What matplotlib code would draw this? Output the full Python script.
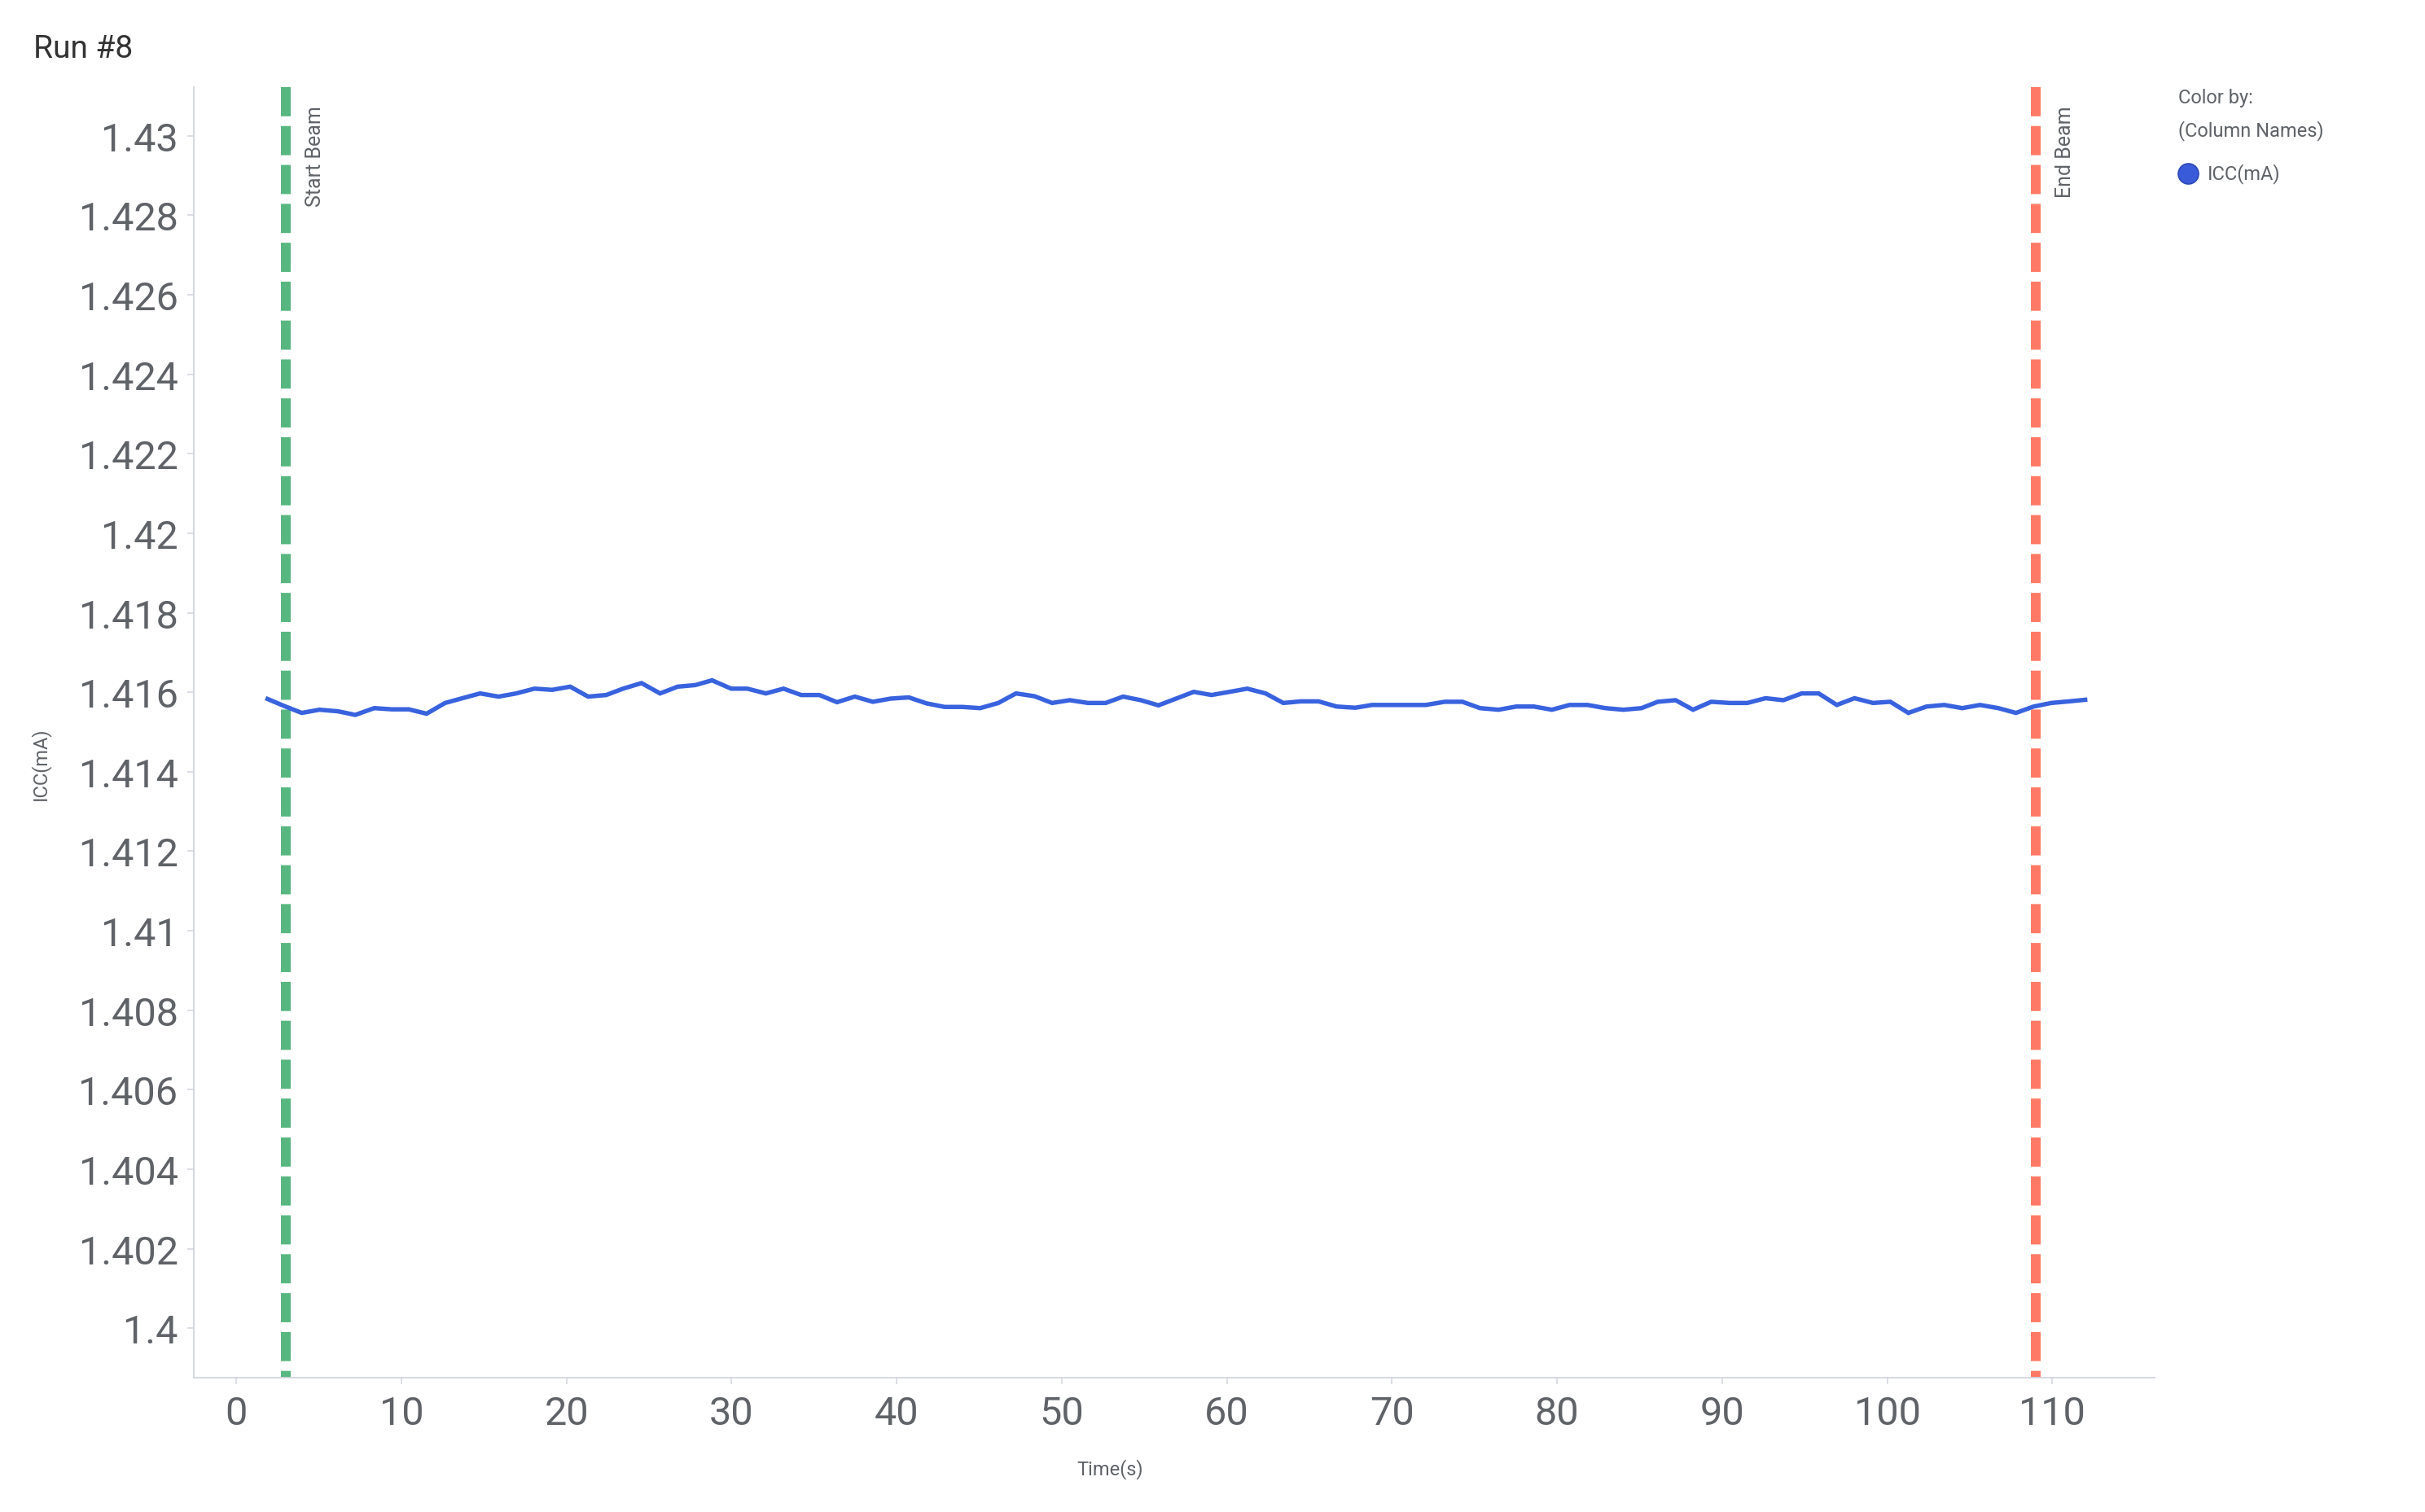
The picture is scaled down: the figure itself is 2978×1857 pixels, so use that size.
import matplotlib
matplotlib.use("Agg")
import matplotlib.pyplot as plt
from matplotlib.lines import Line2D
from matplotlib.ticker import FuncFormatter, MultipleLocator
from matplotlib.transforms import offset_copy

plt.rcParams['font.family'] = ['Roboto', 'DejaVu Sans']

# ---- data ----
time_s = [1.90, 2.93, 3.97, 5.04, 6.17, 7.21, 8.36, 9.43, 10.45, 11.53,
          12.65, 13.70, 14.77, 15.89, 16.96, 18.06, 19.13, 20.23, 21.31, 22.41,
          23.43, 24.55, 25.67, 26.74, 27.81, 28.82, 29.98, 30.96, 32.08, 33.15,
          34.22, 35.32, 36.39, 37.47, 38.56, 39.64, 40.74, 41.81, 42.91, 43.98,
          45.06, 46.16, 47.23, 48.35, 49.42, 50.49, 51.59, 52.66, 53.72, 54.79,
          55.86, 56.93, 58.00, 59.07, 60.17, 61.24, 62.35, 63.42, 64.49, 65.56,
          66.66, 67.78, 68.80, 69.92, 70.98, 72.05, 73.20, 74.27, 75.34, 76.46,
          77.53, 78.60, 79.69, 80.76, 81.85, 82.93, 84.02, 85.12, 86.10, 87.18,
          88.24, 89.34, 90.46, 91.53, 92.63, 93.71, 94.82, 95.85, 96.95, 98.02,
          99.14, 100.19, 101.28, 102.38, 103.45, 104.55, 105.62, 106.73, 107.80, 108.87,
          109.94, 111.01, 111.99]
icc_ma = [1.41583, 1.41565, 1.41548, 1.41556, 1.41552, 1.41543, 1.41560, 1.41557, 1.41557, 1.41546,
          1.41573, 1.41585, 1.41597, 1.41589, 1.41597, 1.41609, 1.41606, 1.41614, 1.41589, 1.41593,
          1.41609, 1.41623, 1.41597, 1.41614, 1.41618, 1.41630, 1.41609, 1.41609, 1.41597, 1.41609,
          1.41593, 1.41593, 1.41575, 1.41589, 1.41576, 1.41584, 1.41587, 1.41572, 1.41563, 1.41563,
          1.41560, 1.41573, 1.41597, 1.41590, 1.41573, 1.41580, 1.41573, 1.41573, 1.41589, 1.41580,
          1.41567, 1.41584, 1.41601, 1.41593, 1.41601, 1.41609, 1.41597, 1.41573, 1.41577, 1.41577,
          1.41564, 1.41561, 1.41568, 1.41568, 1.41568, 1.41568, 1.41576, 1.41576, 1.41560, 1.41556,
          1.41564, 1.41564, 1.41556, 1.41568, 1.41568, 1.41560, 1.41556, 1.41560, 1.41576, 1.41580,
          1.41556, 1.41576, 1.41573, 1.41573, 1.41585, 1.41580, 1.41597, 1.41597, 1.41568, 1.41585,
          1.41573, 1.41576, 1.41548, 1.41564, 1.41568, 1.41560, 1.41568, 1.41560, 1.41548, 1.41564,
          1.41573, 1.41577, 1.41581]
series_name = "ICC(mA)"
start_beam_s = 3.0
end_beam_s = 109.0
x_ticks = [0, 10, 20, 30, 40, 50, 60, 70, 80, 90, 100, 110]

# ---- style ----
W, H = 2978, 1858
line_color = '#3862DE'
green = '#58B780'
red = '#FF7A66'
spine_color = '#D2D4DE'
text_gray = '#5F6368'
small = 17

fig = plt.figure(figsize=(W / 100, H / 100), dpi=100)
ax = fig.add_axes([238 / W, 1 - 1693 / H, (2646 - 238) / W, (1693 - 108) / H])

ax.plot(time_s, icc_ma, color=line_color, lw=3.9, solid_joinstyle='miter', zorder=3)

for xv, col in [(start_beam_s, green), (end_beam_s, red)]:
    ax.axvline(xv, ymin=1, ymax=0, color=col, lw=8.6, linestyle=(0, (3, 1)),
               dash_capstyle='butt', zorder=2)

ax.set_xlim(-2.57, 116.2)
ax.set_ylim(1.39876, 1.43122)
ax.set_xticks(x_ticks)
ax.yaxis.set_major_locator(MultipleLocator(0.002))
ax.yaxis.set_major_formatter(FuncFormatter(lambda v, p: ('%.3f' % v).rstrip('0').rstrip('.')))

for s in ['top', 'right']:
    ax.spines[s].set_visible(False)
for s in ['left', 'bottom']:
    ax.spines[s].set_color(spine_color)
    ax.spines[s].set_linewidth(1.3)
ax.tick_params(axis='both', colors=spine_color, labelcolor=text_gray, labelsize=35,
               length=6, width=1.1)
ax.tick_params(axis='x', pad=9)
ax.tick_params(axis='y', pad=8)

# vertical line labels
trans = offset_copy(ax.get_xaxis_transform(), fig=fig, x=24, y=-22, units='dots')
ax.text(start_beam_s, 1, 'Start Beam', rotation=90, ha='left', va='top',
        fontsize=18, color=text_gray, transform=trans)
ax.text(end_beam_s, 1, 'End Beam', rotation=90, ha='left', va='top',
        fontsize=18, color=text_gray, transform=trans)

# title and axis labels
fig.text(41 / W, 1 - 71 / H, 'Run #8', fontsize=28, fontweight='normal',
         color='#333333', ha='left', va='baseline')
fig.text(1363 / W, 1 - 1805 / H, 'Time(s)', fontsize=small, color=text_gray,
         ha='center', va='center')
fig.text(49 / W, 1 - 938 / H, 'ICC(mA)', fontsize=small, color=text_gray,
         rotation=90, ha='center', va='center')

# legend
fig.text(2675 / W, 1 - 127 / H, 'Color by:', fontsize=small, color=text_gray,
         ha='left', va='baseline')
fig.text(2675 / W, 1 - 167 / H, '(Column Names)', fontsize=small, color=text_gray,
         ha='left', va='baseline')
fig.add_artist(Line2D([2687 / W], [1 - 214 / H], marker='o', markersize=18,
                      markerfacecolor='#3A5BD9', markeredgecolor='#2B48B5',
                      markeredgewidth=1.2, linestyle='none', transform=fig.transFigure))
fig.text(2711 / W, 1 - 214 / H, series_name, fontsize=small, color=text_gray,
         ha='left', va='center')

fig.savefig('out.png', dpi=100, facecolor='white')
